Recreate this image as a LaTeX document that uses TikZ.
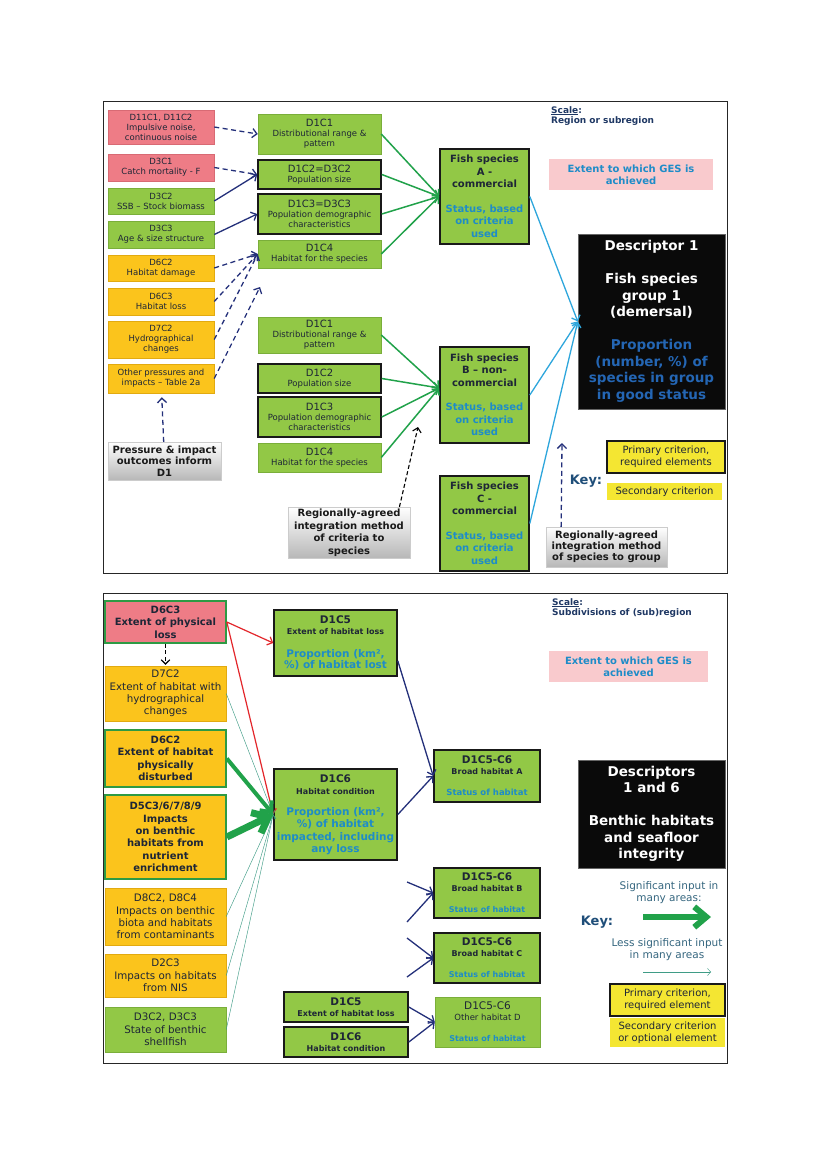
\documentclass[tikz,border=0pt]{standalone}
\usepackage{fontspec}
\setmainfont{DejaVu Sans}
\usetikzlibrary{arrows.meta}
\usetikzlibrary{positioning}

\definecolor{boxgreen}{HTML}{92C846}
\definecolor{greenedge}{HTML}{7AAE3A}
\definecolor{boxred}{HTML}{EE7C86}
\definecolor{rededge}{HTML}{D86A74}
\definecolor{boxorange}{HTML}{FBC41C}
\definecolor{orangeedge}{HTML}{E2AA10}
\definecolor{keyyellow}{HTML}{F4E632}
\definecolor{gespink}{HTML}{F9CACD}
\definecolor{boxtext}{HTML}{1E2636}
\definecolor{statblue}{HTML}{1E8CC8}
\definecolor{darkblue}{HTML}{2466B4}
\definecolor{scaleblue}{HTML}{1F3864}
\definecolor{keynavy}{HTML}{1F4E79}
\definecolor{keygrey}{HTML}{35667F}
\definecolor{navyline}{HTML}{24307A}
\definecolor{groupcyan}{HTML}{2EA6DC}
\definecolor{critgreen}{HTML}{21A24A}
\definecolor{borderg}{HTML}{2E9A44}
\definecolor{lossred}{HTML}{E3262B}
\definecolor{lessteal}{HTML}{3F9C86}

\newcommand{\fsz}[2]{\fontsize{#1}{#2}\selectfont}
\newcommand{\stt}[1]{\textcolor{statblue}{#1}}
\newcommand{\dbl}[1]{\textcolor{darkblue}{#1}}

\tikzset{
  >={Straight Barb[length=2.5pt 1.6, width=6pt 2.4]},
  boxsize/.style 2 args={minimum width=#1, minimum height=#2},
  crit/.style={rectangle, align=center, inner sep=1pt, text=boxtext, font=\fsz{8.5}{10}},
  gbox/.style={crit, fill=boxgreen, draw=greenedge, line width=0.5pt},
  gboxk/.style={crit, fill=boxgreen, draw=black!90, line width=1.6pt},
  rbox/.style={crit, fill=boxred, draw=rededge, line width=0.5pt},
  obox/.style={crit, fill=boxorange, draw=orangeedge, line width=0.5pt},
  greybox/.style={crit, top color=white, bottom color=black!28, draw=black!20, line width=0.4pt, text=black!90},
  blackbox/.style={crit, fill=black!96, draw=black!60, line width=0.5pt, text=white},
  pinkbox/.style={crit, fill=gespink, text=statblue, font=\bfseries\fsz{10}{12}},
  ybox/.style={crit, fill=keyyellow, font=\fsz{10}{12}},
  yboxk/.style={ybox, draw=black!90, line width=1.6pt},
  scaletext/.style={align=left, inner sep=0pt, text=scaleblue, font=\bfseries\fsz{9}{10}},
  keyword/.style={inner sep=0pt, text=keynavy, font=\bfseries\fsz{13}{15}},
  keynote/.style={align=center, inner sep=0pt, text=keygrey, font=\fsz{10.5}{12}},
  panel/.style={draw=black!85, line width=0.8pt},
  pdash/.style={->, draw=navyline, line width=1.3pt, dash pattern=on 5pt off 3.5pt},
  psolid/.style={->, draw=navyline, line width=1.3pt},
  blackdash/.style={->, draw=black, line width=1.1pt, dash pattern=on 4pt off 2.5pt},
  critarrow/.style={->, draw=critgreen, line width=1.5pt},
  grouparrow/.style={->, draw=groupcyan, line width=1.3pt},
  lossarrow/.style={->, draw=lossred, line width=1.2pt},
  sigarrow/.style={->, draw=critgreen},
  lessarrow/.style={->, draw=lessteal, line width=0.45pt},
  habarrow/.style={->, draw=navyline, line width=1.3pt}
}

\begin{document}
\begin{tikzpicture}[x=1pt,y=-1pt]
\useasboundingbox[fill=white] (0,0) rectangle (826,1169);

% ---------- upper panel: descriptor 1 ----------
\draw[panel] (103,101) rectangle (727,573);

% pressures and impacts
\node[rbox, boxsize={106}{34}] (noise) at (161,127) {D11C1, D11C2\\Impulsive noise,\\continuous noise};
\node[rbox, boxsize={106}{27}] (catch) at (161,167.5) {D3C1\\Catch mortality - F};
\node[gbox, boxsize={106}{26}] (ssb) at (161,201) {D3C2\\SSB -- Stock biomass};
\node[gbox, boxsize={106}{27}] (agesize) at (161,234.5) {D3C3\\Age \& size structure};
\node[obox, boxsize={106}{26}] (habdam) at (161,268) {D6C2\\Habitat damage};
\node[obox, boxsize={106}{27}] (habloss) at (161,301.5) {D6C3\\Habitat loss};
\node[obox, boxsize={106}{37}] (hydro) at (161,339.5) {D7C2\\Hydrographical\\changes};
\node[obox, boxsize={106}{29}] (otherp) at (161,378.5) {Other pressures and\\impacts -- Table 2a};
\node[greybox, boxsize={113}{38}, font=\bfseries\fsz{10}{11.5}] (inform) at (164.5,461) {Pressure \& impact\\outcomes inform\\D1};

% criteria, species A
\node[gbox, boxsize={123}{40}] (distA) at (319.5,134) {{\fsz{10}{12}D1C1}\\Distributional range \&\\pattern};
\node[gboxk, boxsize={123}{29}] (sizeA) at (319.5,174.5) {{\fsz{10}{12}D1C2=D3C2}\\Population size};
\node[gboxk, boxsize={123}{40}] (demoA) at (319.5,214) {{\fsz{10}{12}D1C3=D3C3}\\Population demographic\\characteristics};
\node[gbox, boxsize={123}{28}] (habA) at (319.5,254) {{\fsz{10}{12}D1C4}\\Habitat for the species};

% criteria, species B
\node[gbox, boxsize={123}{36}] (distB) at (319.5,335) {{\fsz{10}{12}D1C1}\\Distributional range \&\\pattern};
\node[gboxk, boxsize={123}{29}] (sizeB) at (319.5,378.5) {{\fsz{10}{12}D1C2}\\Population size};
\node[gboxk, boxsize={123}{40}] (demoB) at (319.5,417) {{\fsz{10}{12}D1C3}\\Population demographic\\characteristics};
\node[gbox, boxsize={123}{29}] (habB) at (319.5,457.5) {{\fsz{10}{12}D1C4}\\Habitat for the species};
\node[greybox, boxsize={122}{51}, font=\bfseries\fsz{10}{12.5}] (critint) at (349,532.5) {Regionally-agreed\\integration method\\of criteria to\\species};

% species
\node[gboxk, boxsize={89}{95}, font=\bfseries\fsz{10}{12.5}] (fishA) at (484.5,196.5) {Fish species\\A -\\commercial\\[12pt]\stt{Status, based}\\\stt{on criteria}\\\stt{used}};
\node[gboxk, boxsize={89}{96}, font=\bfseries\fsz{10}{12.5}] (fishB) at (484.5,395) {Fish species\\B -- non-\\commercial\\[12pt]\stt{Status, based}\\\stt{on criteria}\\\stt{used}};
\node[gboxk, boxsize={89}{95}, font=\bfseries\fsz{10}{12.5}] (fishC) at (484.5,523.5) {Fish species\\C -\\commercial\\[12pt]\stt{Status, based}\\\stt{on criteria}\\\stt{used}};

% scale, GES, descriptor, key
\node[scaletext, anchor=north west] (scaleA) at (551,106) {\underline{Scale}:\\Region or subregion};
\node[pinkbox, boxsize={164}{31}] (gesA) at (631,174.5) {Extent to which GES is\\achieved};
\node[blackbox, boxsize={147}{175}, font=\bfseries\fsz{13.5}{16.5}] (desc1) at (651.5,321.5) {Descriptor 1\\[16.5pt]Fish species\\group 1\\(demersal)\\[16.5pt]\dbl{Proportion}\\\dbl{(number, \%) of}\\\dbl{species in group}\\\dbl{in good status}};
\node[greybox, boxsize={121}{40}, font=\bfseries\fsz{10}{11}] (specint) at (606.5,547) {Regionally-agreed\\integration method\\of species to group};
\node[keyword] (keyA) at (586,481) {Key:};
\node[yboxk, boxsize={118}{32}] (primA) at (666,457) {Primary criterion,\\required elements};
\node[ybox, boxsize={115}{17}] (secA) at (664.5,491.5) {Secondary criterion};

% connectors, upper panel
\draw[pdash] (noise.east) -- (distA.west);
\draw[pdash] (catch.east) -- (sizeA.west);
\draw[psolid] (ssb.east) -- (sizeA.west);
\draw[psolid] (agesize.east) -- (demoA.west);
\draw[pdash] (habdam.east) -- (habA.west);
\draw[pdash] (habloss.east) -- (habA.west);
\draw[pdash] (hydro.east) -- (habA.west);
\coordinate (pressend) at (260,287);
\draw[pdash] (otherp.east) -- (pressend);
\draw[pdash, shorten >=4pt] (inform) -- (otherp);

\foreach \c in {distA,sizeA,demoA,habA}
  \draw[critarrow] (\c.east) -- (fishA.west);
\coordinate (fishBin) at ([yshift=7pt]fishB.west);
\foreach \c in {distB,sizeB,demoB,habB}
  \draw[critarrow] (\c.east) -- (fishBin);
\foreach \f in {fishA,fishB,fishC}
  \draw[grouparrow] (\f.east) -- (desc1.west);

\coordinate (critend) at (418,427);
\draw[blackdash] (critint.27) -- (critend);
\coordinate (specend) at (562,443);
\draw[pdash] (specint.156) -- (specend);

% ---------- lower panel: descriptors 1 and 6 ----------
\draw[panel] (103,593) rectangle (727,1063);

% pressures and impacts
\node[rbox, draw=borderg, line width=1.6pt, boxsize={121}{42}, font=\bfseries\fsz{10}{12.5}] (physloss) at (165.5,622) {D6C3\\Extent of physical\\loss};
\node[obox, boxsize={121}{55}, font=\fsz{10.3}{12.3}] (hydroext) at (165.5,693.5) {D7C2\\Extent of habitat with\\hydrographical\\changes};
\node[obox, draw=borderg, line width=1.6pt, boxsize={121}{57}, font=\bfseries\fsz{10}{12.4}] (disturb) at (165.5,758.5) {D6C2\\Extent of habitat\\physically\\disturbed};
\node[obox, draw=borderg, line width=1.6pt, boxsize={121}{84}, font=\bfseries\fsz{10}{12.4}] (nutrient) at (165.5,837) {D5C3/6/7/8/9\\Impacts\\on benthic\\habitats from\\nutrient\\enrichment};
\node[obox, boxsize={121}{57}, font=\fsz{10.3}{12.3}] (contam) at (165.5,916.5) {D8C2, D8C4\\Impacts on benthic\\biota and habitats\\from contaminants};
\node[obox, boxsize={121}{43}, font=\fsz{10.3}{12.3}] (nis) at (165.5,975.5) {D2C3\\Impacts on habitats\\from NIS};
\node[gbox, boxsize={121}{45}, font=\fsz{10.3}{12.3}] (shellfish) at (165.5,1029.5) {D3C2, D3C3\\State of benthic\\shellfish};

% criteria
\node[gboxk, boxsize={123}{66}, font=\bfseries\fsz{10.5}{11.5}] (lossC5) at (335.5,643) {D1C5\\{\fsz{8}{10}Extent of habitat loss}\\[11pt]\stt{Proportion (km²,}\\\stt{\%) of habitat lost}};
\node[gboxk, boxsize={123}{91}, font=\bfseries\fsz{10.5}{12.3}] (condC6) at (335.5,814.5) {D1C6\\{\fsz{8}{10}Habitat condition}\\[9pt]\stt{Proportion (km²,}\\\stt{\%) of habitat}\\\stt{impacted, including}\\\stt{any loss}};
\node[gboxk, boxsize={124}{30}, font=\bfseries\fsz{10.5}{11}] (smallC5) at (346,1007) {D1C5\\{\fsz{8}{10}Extent of habitat loss}};
\node[gboxk, boxsize={124}{30}, font=\bfseries\fsz{10.5}{11}] (smallC6) at (346,1042) {D1C6\\{\fsz{8}{10}Habitat condition}};

% broad habitats
\node[gboxk, boxsize={106}{52}, font=\bfseries\fsz{10.5}{11}] (habitA) at (487,776) {D1C5-C6\\{\fsz{8}{10}Broad habitat A}\\[10pt]{\fsz{8.5}{10}\stt{Status of habitat}}};
\node[gboxk, boxsize={106}{50}, font=\bfseries\fsz{10.5}{11}] (habitB) at (487,893) {D1C5-C6\\{\fsz{8}{10}Broad habitat B}\\[10pt]{\fsz{8}{10}\stt{Status of habitat}}};
\node[gboxk, boxsize={106}{50}, font=\bfseries\fsz{10.5}{11}] (habitC) at (487,958) {D1C5-C6\\{\fsz{8}{10}Broad habitat C}\\[10pt]{\fsz{8}{10}\stt{Status of habitat}}};
\node[gbox, boxsize={105}{50}, font=\fsz{10.5}{11}] (habitD) at (487.5,1022) {D1C5-C6\\{\fsz{8.5}{10}Other habitat D}\\[10pt]{\bfseries\fsz{8}{10}\stt{Status of habitat}}};

% scale, GES, descriptors, key
\node[scaletext, anchor=north west] (scaleB) at (552,598) {\underline{Scale}:\\Subdivisions of (sub)region};
\node[pinkbox, boxsize={159}{31}] (gesB) at (628.5,666.5) {Extent to which GES is\\achieved};
\node[blackbox, boxsize={147}{108}, font=\bfseries\fsz{13.5}{16.5}] (desc16) at (651.5,814) {Descriptors\\1 and 6\\[16.5pt]Benthic habitats\\and seafloor\\integrity};
\node[keynote] (sigtxt) at (669,893) {Significant input in\\many areas:};
\coordinate (sigL) at (643,917);
\coordinate (sigR) at (711,917);
\draw[sigarrow, line width=6pt] (sigL) -- (sigR);
\node[keyword] (keyB) at (597,922) {Key:};
\node[keynote] (lesstxt) at (667,950) {Less significant input\\in many areas};
\coordinate (lessL) at (643,972);
\coordinate (lessR) at (711,972);
\draw[lessarrow] (lessL) -- (lessR);
\node[yboxk, boxsize={115}{32}] (primB) at (667.5,1000) {Primary criterion,\\required element};
\node[ybox, boxsize={115}{29}] (secB) at (667.5,1032.5) {Secondary criterion\\or optional element};

% connectors, lower panel
\draw[blackdash, shorten >=1pt] (physloss) -- (hydroext);
\draw[lossarrow] (physloss.east) -- (lossC5.west);
\draw[lossarrow] (physloss.east) -- (condC6.west);
\foreach \q in {hydroext,contam,nis,shellfish}
  \draw[lessarrow] (\q.east) -- (condC6.west);
\draw[sigarrow, line width=4pt] (disturb.east) -- (condC6.west);
\draw[sigarrow, line width=7pt] (nutrient.east) -- (condC6.west);
\draw[habarrow] (lossC5.-16) -- (habitA.west);
\draw[habarrow] (condC6.east) -- (habitA.west);
\coordinate (inB1) at (407,882);
\coordinate (inB2) at (407,922);
\coordinate (inC1) at (407,938);
\coordinate (inC2) at (407,977);
\draw[habarrow] (inB1) -- (habitB.west);
\draw[habarrow] (inB2) -- (habitB.west);
\draw[habarrow] (inC1) -- (habitC.west);
\draw[habarrow] (inC2) -- (habitC.west);
\draw[habarrow] (smallC5.east) -- (habitD.west);
\draw[habarrow] (smallC6.east) -- (habitD.west);
\end{tikzpicture}
\end{document}
